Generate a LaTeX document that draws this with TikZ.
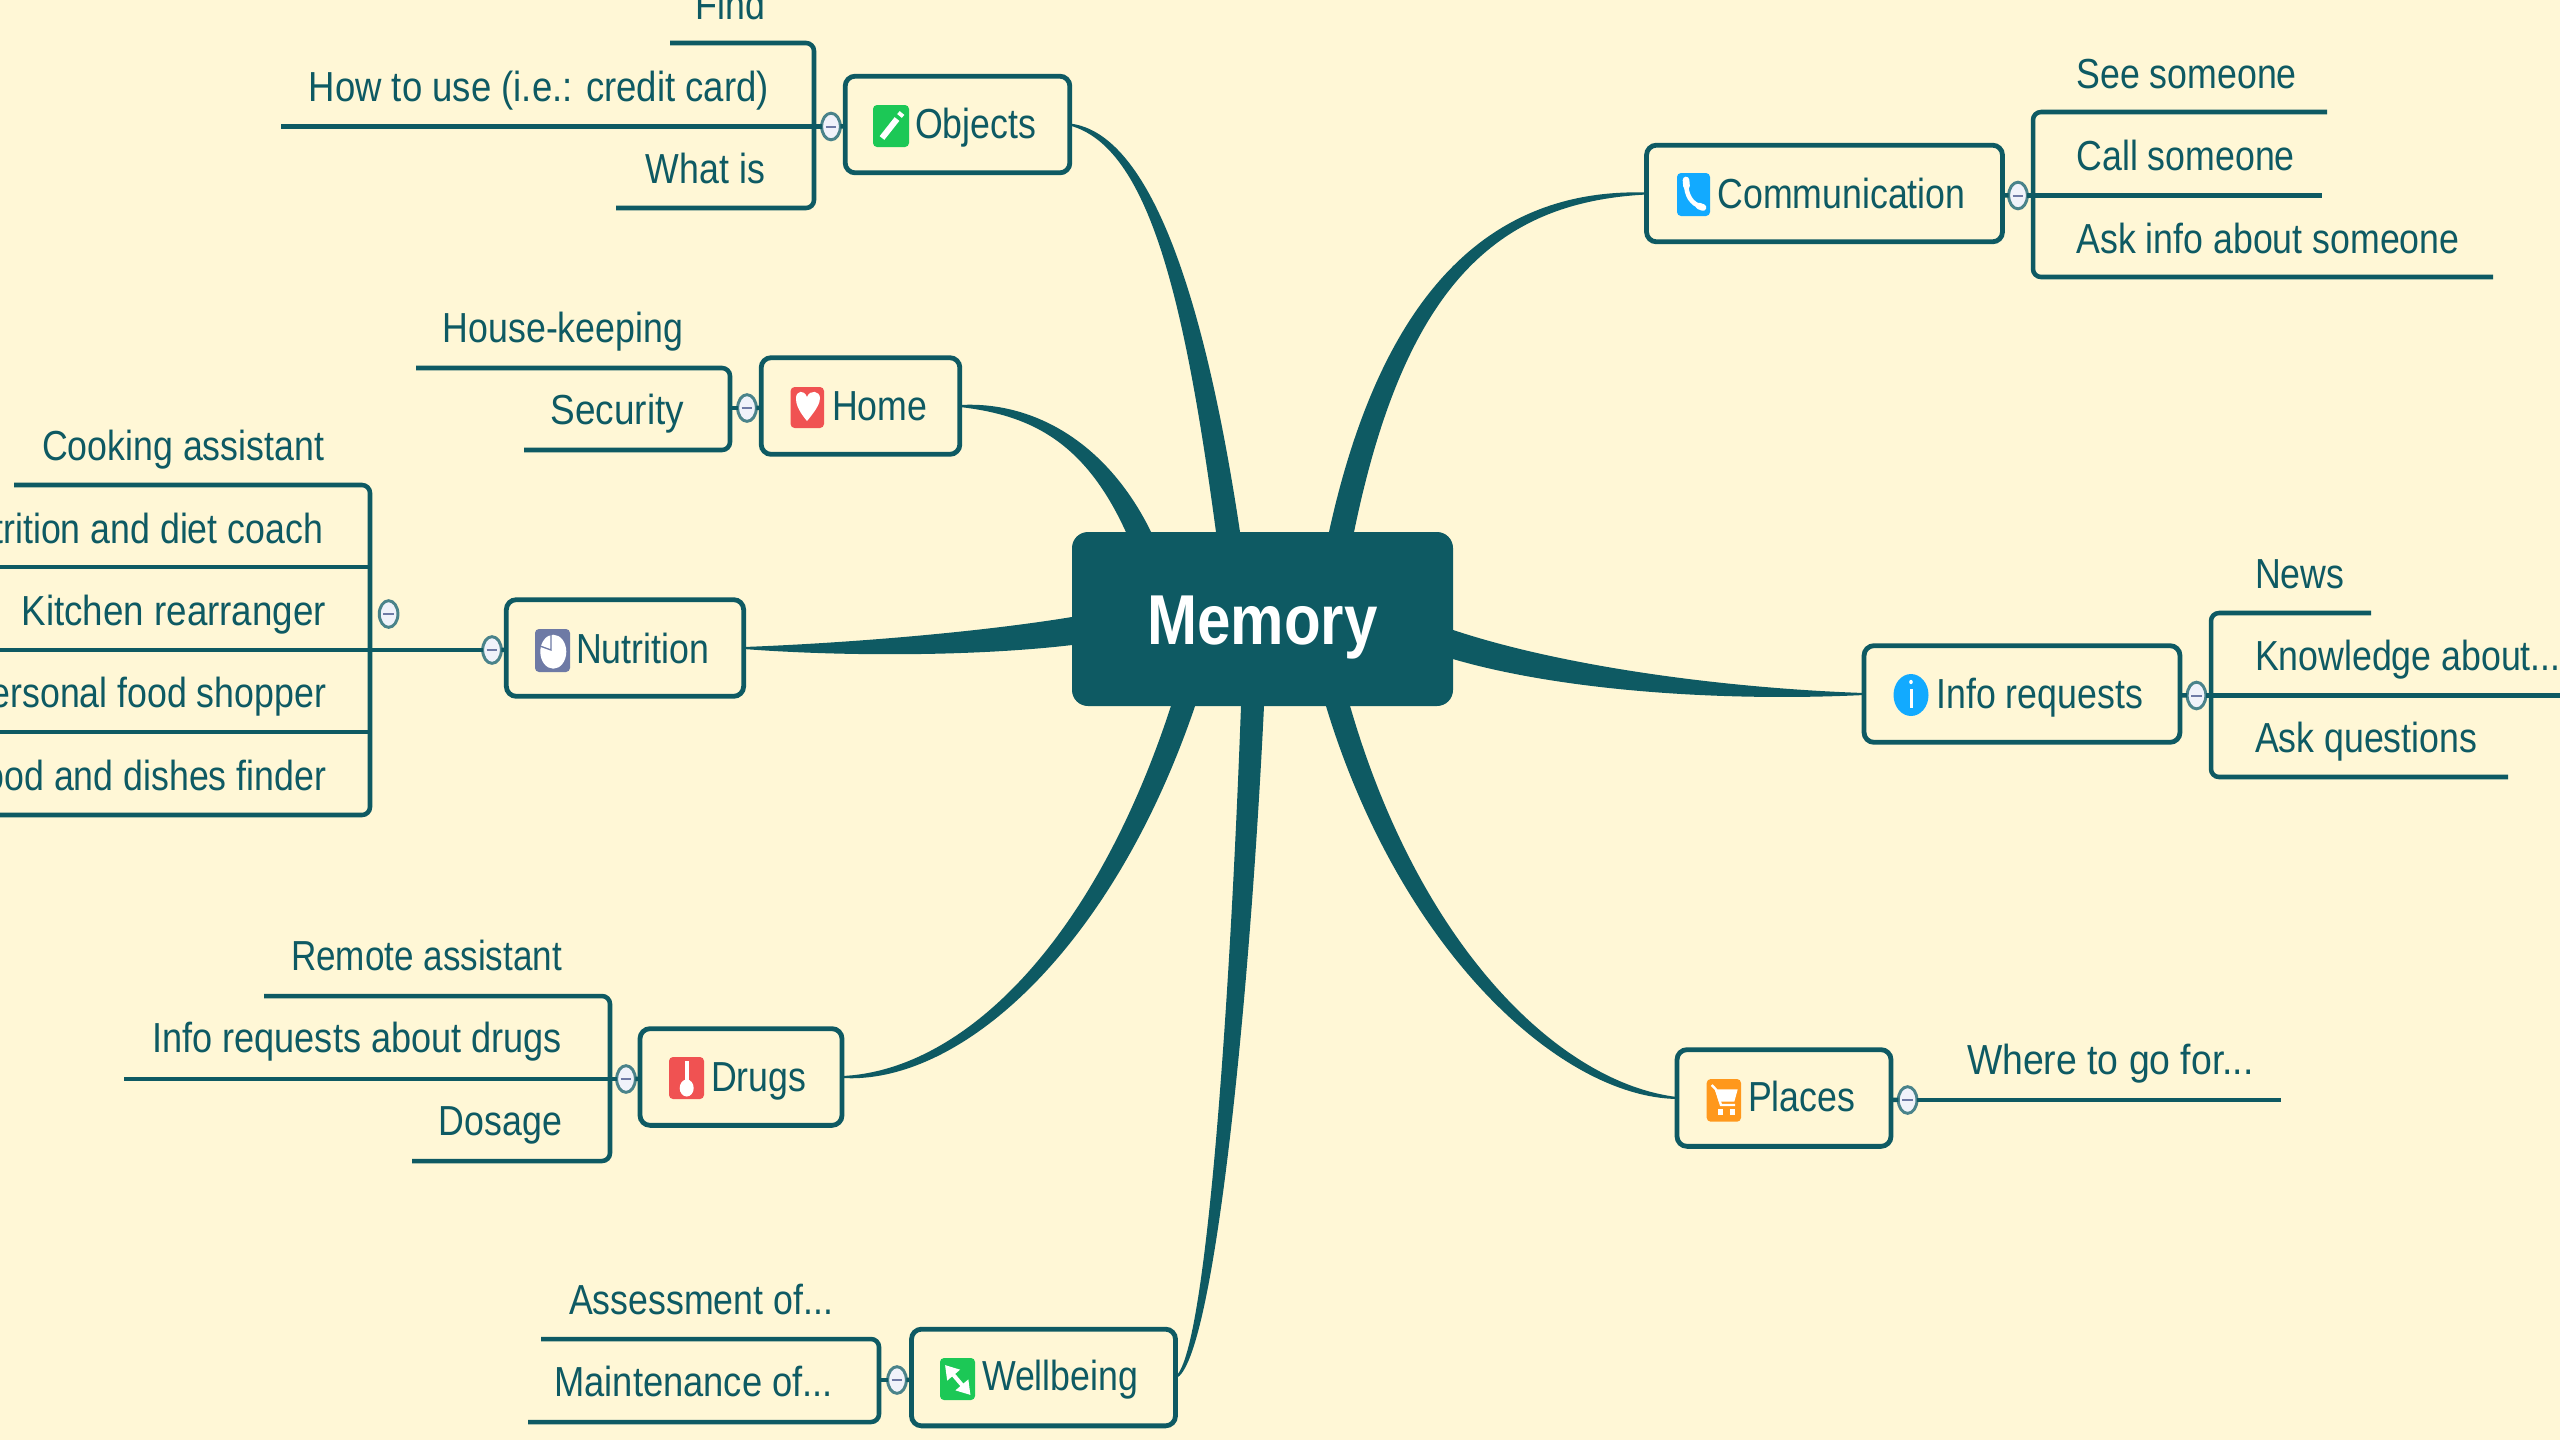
\documentclass[tikz,border=0pt]{standalone}
\usepackage{fontspec}
\setmainfont[FakeStretch=0.85]{Liberation Sans}
\usetikzlibrary{calc,shapes.geometric,arrows.meta}

\definecolor{mapteal}{RGB}{14,90,99}
\definecolor{mapback}{RGB}{255,247,214}
\definecolor{foldfill}{RGB}{240,242,250}
\definecolor{iconred}{RGB}{240,82,82}
\definecolor{icongreen}{RGB}{28,200,86}
\definecolor{iconblue}{RGB}{18,170,255}
\definecolor{iconorange}{RGB}{255,152,28}
\definecolor{iconslate}{RGB}{110,122,165}

\tikzset{every picture/.style={line width=0.75pt}}
\tikzset{
	rootbox/.style={fill=mapteal,text=white,rounded corners=12pt,minimum width=285.75pt,minimum height=130.5pt,inner sep=0pt,outer sep=0pt,font=\fontsize{53}{60}\selectfont\bfseries},
	topicbox/.style={draw=mapteal,line width=3.6pt,fill=mapback,rounded corners=7.5pt,minimum height=72.5pt,inner sep=0pt,outer sep=0pt},
	maptext/.style={text=mapteal,inner sep=0pt,outer sep=0pt,font=\fontsize{31.5}{36}\selectfont},
	lefttext/.style={maptext,anchor=base east},
	righttext/.style={maptext,anchor=base west},
	widertext/.style={font=\fontsize{31.5}{36}\selectfont\addfontfeature{FakeStretch=#1}},
	foldmark/.style={shape=ellipse,draw=mapteal!75,line width=2.2pt,fill=foldfill,minimum width=14pt,minimum height=20pt,inner sep=0pt,outer sep=0pt,
		path picture={\draw[iconslate,line width=1.5pt] ([xshift=-4pt]path picture bounding box.center) -- ([xshift=4pt]path picture bounding box.center);}},
	subline/.style={draw=mapteal,line width=3.4pt,rounded corners=6pt},
	icontile/.style={fill=#1,rounded corners=3pt}
}

% tapered branch: start, first control, its shift, second control, the two ends on the root
\newcommand{\mapbranch}[6]{
	\filldraw[mapteal,line width=1.5pt] (#1) .. controls ($(#2)+(#3)$) and ($(#4)+0.42*(#5)-0.42*(#6)$) .. (#5) -- (#6) .. controls ($(#4)-0.42*(#5)+0.42*(#6)$) and ($(#2)-(#3)$) .. (#1) -- cycle;
}

\begin{document}
\begin{tikzpicture}[x=0.75pt,y=0.75pt,yscale=-1,xscale=1]
	\useasboundingbox (0,0) rectangle (2560,1440);
	\fill[mapback] (0,0) rectangle (2560,1440);

	% Root and topic boxes
	\draw (1262.5,619) node[rootbox] (memory) {\raisebox{-18.75pt}[0pt][0pt]{Memory}};
	\draw (957.5,124.5) node[topicbox,minimum width=168.5pt] (objects) {};
	\draw (860.5,406) node[topicbox,minimum width=149pt] (home) {};
	\draw (625,648) node[topicbox,minimum width=178pt] (nutrition) {};
	\draw (741,1077) node[topicbox,minimum width=151.5pt] (drugs) {};
	\draw (1043.5,1377.5) node[topicbox,minimum width=198pt] (wellbeing) {};
	\draw (1824.5,193.5) node[topicbox,minimum width=267pt] (communication) {};
	\draw (2022,694) node[topicbox,minimum width=237pt] (inforequests) {};
	\draw (1784,1098) node[topicbox,minimum width=160.5pt] (places) {};

	% Branch ends on the root
	\coordinate (objectsA) at (1217,532);
	\coordinate (objectsB) at (1239,532);
	\coordinate (homeA) at (1127,532);
	\coordinate (homeB) at (1150,532);
	\coordinate (nutritionA) at (1072,618);
	\coordinate (nutritionB) at (1072,644);
	\coordinate (drugsA) at (1172,706);
	\coordinate (drugsB) at (1194,706);
	\coordinate (wellbeingA) at (1242,706);
	\coordinate (wellbeingB) at (1263,706);
	\coordinate (communicationA) at (1330,532);
	\coordinate (communicationB) at (1353,532);
	\coordinate (inforequestsA) at (1453,631);
	\coordinate (inforequestsB) at (1453,658);
	\coordinate (placesA) at (1327,706);
	\coordinate (placesB) at (1349,706);

	% Tapered branches
	\mapbranch{objects.east}{1150,140}{0,6}{1195,300}{objectsA}{objectsB}
	\mapbranch{home.east}{1030,408}{0,6}{1095,440}{homeA}{homeB}
	\mapbranch{nutrition.east}{850,650}{0,-6}{980,644}{nutritionA}{nutritionB}
	\mapbranch{drugs.east}{960,1078}{0,-6}{1102,949}{drugsA}{drugsB}
	\mapbranch{wellbeing.east}{1210,1360}{-3,0}{1240,1000}{wellbeingA}{wellbeingB}
	\mapbranch{communication.west}{1500,195}{0,-6}{1395,280}{communicationA}{communicationB}
	\mapbranch{inforequests.west}{1720,695}{0,-6}{1560,678}{inforequestsA}{inforequestsB}
	\mapbranch{places.west}{1560,1090}{0,6}{1410,949}{placesA}{placesB}

	% Fold marks
	\draw (831,126.5) node[foldmark] (objectsFold) {};
	\draw (747,408) node[foldmark] (homeFold) {};
	\draw (388.6,614) node[foldmark] (kitchenFold) {};
	\draw (492,650) node[foldmark] (nutritionFold) {};
	\draw (626,1079) node[foldmark] (drugsFold) {};
	\draw (897,1380) node[foldmark] (wellbeingFold) {};
	\draw (2018,195.5) node[foldmark] (communicationFold) {};
	\draw (2196.5,695.5) node[foldmark] (inforequestsFold) {};
	\draw (1907.6,1100) node[foldmark] (placesFold) {};

	% Objects leaves
	\coordinate (objectsJoint) at (814,126.5);
	\coordinate (findEnd) at (670,43);
	\coordinate (howEnd) at (281,126.5);
	\coordinate (whatEnd) at (616,208);
	\draw[subline] (findEnd) -| (objectsJoint) |- (whatEnd);
	\draw[subline] (howEnd) -- (objectsFold);
	\draw[subline] (objects) -- (objectsFold);
	\draw (765,19) node[lefttext] (find) {Find};
	\draw (769,101) node[lefttext,widertext=0.87] (howtouse) {How to use (i.e.: credit card)};
	\draw (765,183) node[lefttext] (whatis) {What is};

	% Home leaves
	\coordinate (homeJoint) at (730,408);
	\coordinate (housekeepingEnd) at (416,368);
	\coordinate (securityEnd) at (524,450);
	\draw[subline] (housekeepingEnd) -| (homeJoint) |- (securityEnd);
	\draw[subline] (homeJoint) -- (homeFold);
	\draw[subline] (home) -- (homeFold);
	\draw (683,342) node[lefttext] (housekeeping) {House-keeping};
	\draw (684,424) node[lefttext,widertext=0.88] (security) {Security};

	% Nutrition leaves
	\coordinate (nutritionJoint) at (370,650);
	\coordinate (cookingEnd) at (14,485);
	\coordinate (dietEnd) at (-10,567);
	\coordinate (kitchenEnd) at (-10,650);
	\coordinate (shopperEnd) at (-10,732);
	\coordinate (finderEnd) at (-10,815);
	\draw[subline] (cookingEnd) -| (nutritionJoint) |- (finderEnd);
	\draw[subline] (dietEnd) -- (dietEnd -| nutritionJoint);
	\draw[subline] (kitchenEnd) -- (nutritionFold);
	\draw[subline] (shopperEnd) -- (shopperEnd -| nutritionJoint);
	\draw[subline] (nutrition) -- (nutritionFold);
	\draw (324,460) node[lefttext] (cooking) {Cooking assistant};
	\draw (323,543) node[lefttext] (dietcoach) {Nutrition and diet coach};
	\draw (326,625) node[lefttext,widertext=0.875] (kitchen) {Kitchen rearranger};
	\draw (326,707) node[lefttext] (shopper) {Personal food shopper};
	\draw (326,790) node[lefttext] (finder) {Food and dishes finder};

	% Drugs leaves
	\coordinate (drugsJoint) at (610,1079);
	\coordinate (remoteEnd) at (264,996);
	\coordinate (aboutdrugsEnd) at (124,1079);
	\coordinate (dosageEnd) at (412,1161);
	\draw[subline] (remoteEnd) -| (drugsJoint) |- (dosageEnd);
	\draw[subline] (aboutdrugsEnd) -- (drugsFold);
	\draw[subline] (drugs) -- (drugsFold);
	\draw (562,970) node[lefttext,widertext=0.835] (remote) {Remote assistant};
	\draw (562,1052) node[lefttext,widertext=0.86] (aboutdrugs) {Info requests about drugs};
	\draw (562,1135) node[lefttext] (dosage) {Dosage};

	% Wellbeing leaves
	\coordinate (wellbeingJoint) at (879,1380);
	\coordinate (assessmentEnd) at (541,1339);
	\coordinate (maintenanceEnd) at (528,1422);
	\draw[subline] (assessmentEnd) -| (wellbeingJoint) |- (maintenanceEnd);
	\draw[subline] (wellbeingJoint) -- (wellbeingFold);
	\draw[subline] (wellbeing) -- (wellbeingFold);
	\draw (833,1314) node[lefttext] (assessment) {Assessment of...};
	\draw (833,1396.5) node[lefttext,widertext=0.865] (maintenance) {Maintenance of...};

	% Communication leaves
	\coordinate (communicationJoint) at (2033,195.5);
	\coordinate (seeEnd) at (2327,112);
	\coordinate (callEnd) at (2322,195.5);
	\coordinate (askinfoEnd) at (2493,277);
	\draw[subline] (seeEnd) -| (communicationJoint) |- (askinfoEnd);
	\draw[subline] (communicationFold) -- (callEnd);
	\draw[subline] (communication) -- (communicationFold);
	\draw (2076.5,88) node[righttext] (see) {See someone};
	\draw (2076.5,170) node[righttext] (call) {Call someone};
	\draw (2076.5,253) node[righttext] (askinfo) {Ask info about someone};

	% Info requests leaves
	\coordinate (inforequestsJoint) at (2211,695.5);
	\coordinate (newsEnd) at (2371,613);
	\coordinate (knowledgeEnd) at (2570,695.5);
	\coordinate (askEnd) at (2508,777);
	\draw[subline] (newsEnd) -| (inforequestsJoint) |- (askEnd);
	\draw[subline] (inforequestsFold) -- (knowledgeEnd);
	\draw[subline] (inforequests) -- (inforequestsFold);
	\draw (2255,588) node[righttext] (news) {News};
	\draw (2255,670) node[righttext] (knowledge) {Knowledge about...};
	\draw (2255,752) node[righttext] (ask) {Ask questions};

	% Places leaf
	\coordinate (wheretoEnd) at (2281,1100);
	\draw[subline] (placesFold) -- (wheretoEnd);
	\draw[subline] (places) -- (placesFold);
	\draw (1967,1074) node[righttext,widertext=0.89] (whereto) {Where to go for...};

	% Topic labels
	\draw (915,138) node[righttext] (objectsLabel) {Objects};
	\draw (832,420) node[righttext] (homeLabel) {Home};
	\draw (576,663) node[righttext] (nutritionLabel) {Nutrition};
	\draw (711,1091) node[righttext] (drugsLabel) {Drugs};
	\draw (982,1390.5) node[righttext] (wellbeingLabel) {Wellbeing};
	\draw (1717.5,208) node[righttext] (communicationLabel) {Communication};
	\draw (1936.5,708) node[righttext] (inforequestsLabel) {Info requests};
	\draw (1748,1111) node[righttext] (placesLabel) {Places};

	%Shape: Objects icon
	\fill[icontile=icongreen] (873,105) rectangle (909,147);
	\draw[draw=white,line width=4.5pt] (882,138) -- (897,119);
	\draw[draw=white,line width=4.5pt] (899.5,116) -- (902,113);
	%Shape: Home icon
	\fill[icontile=iconred] (790.6,387) rectangle (824,428);
	\fill[white] (807,421) .. controls (797,409) and (796,403) .. (796,398) .. controls (796,391) and (804,389) .. (807,397) .. controls (810,389) and (820,391) .. (820,398) .. controls (820,403) and (817,409) .. (807,421) -- cycle;
	%Shape: Nutrition icon
	\fill[icontile=iconslate] (535,629) rectangle (570,672);
	\fill[white] (553.3,651.7) ellipse [x radius=13,y radius=17];
	\draw[iconslate,line width=1pt] (540,646) -- (551,650) -- (551,634);
	%Shape: Drugs icon
	\fill[icontile=iconred] (669,1057) rectangle (704,1099);
	\draw[white,line width=3pt] (686.7,1061) -- (686.7,1085);
	\fill[white] (686.7,1088) ellipse [x radius=7,y radius=8.5];
	%Shape: Wellbeing icon
	\fill[icontile=icongreen] (940,1358) rectangle (975,1400);
	\draw[white,line width=3pt,{Triangle[length=10pt,width=12pt]}-{Triangle[length=10pt,width=12pt]}] (945,1365) -- (970.5,1395);
	%Shape: Communication icon
	\fill[icontile=iconblue] (1677,173) rectangle (1710,216);
	\draw[white,line width=3.4pt,line cap=round] (1686,182) .. controls (1686,195) and (1691,204) .. (1702,207);
	\draw[white,line width=5pt,line cap=round] (1686,180) -- (1686.5,186);
	\draw[white,line width=5pt,line cap=round] (1699,206) -- (1703,207.5);
	%Shape: Info requests icon
	\fill[iconblue] (1911,695) ellipse [x radius=17.5,y radius=21];
	\fill[white] (1909.5,689) rectangle (1912.5,708);
	\fill[white] (1911,682) ellipse [x radius=1.8,y radius=2.2];
	%Shape: Places icon
	\fill[icontile=iconorange] (1706.7,1079) rectangle (1741,1121.7);
	\draw[white,line width=1.8pt] (1711.7,1085) -- (1716,1089.5) -- (1721,1105) -- (1735,1105);
	\fill[white] (1715,1089.3) -- (1737.7,1089.3) -- (1734.3,1101.7) -- (1719,1101.7) -- cycle;
	\fill[white] (1717.5,1109) rectangle (1722.5,1115);
	\fill[white] (1729.5,1109) rectangle (1734.5,1115);
\end{tikzpicture}
\end{document}
